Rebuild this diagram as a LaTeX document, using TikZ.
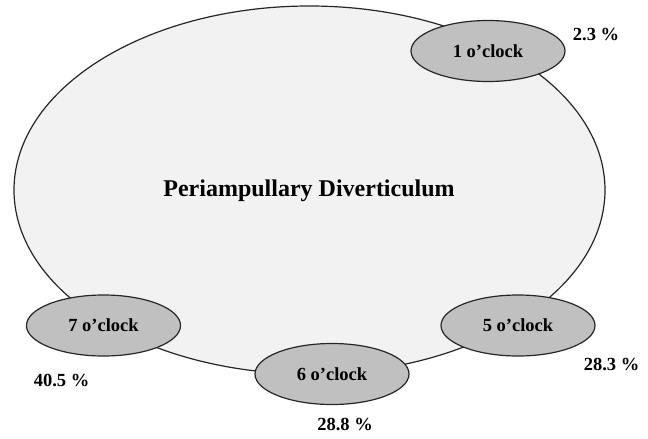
\documentclass[tikz,border=0pt]{standalone}
\usepackage{fontspec}
\setmainfont{Liberation Serif}
\usepackage{xcolor}
\usetikzlibrary{shapes.geometric}

\definecolor{diverfill}{HTML}{F2F2F2}
\definecolor{clockfill}{HTML}{C0C0C0}
\tikzset{
    outline/.style={draw=black!85, line width=1.2pt},
    clock/.style={ellipse, outline, fill=clockfill, minimum width=154pt,
        minimum height=61pt, inner sep=0pt,
        font=\bfseries\fontsize{18.5}{22}\selectfont},
    share/.style={inner sep=0pt, font=\bfseries\fontsize{18.5}{22}\selectfont}
}

\begin{document}
\begin{tikzpicture}[x=1pt, y=-1pt]
    \useasboundingbox (0, 0) rectangle (648, 439);

    \node [ellipse, outline, fill=diverfill, minimum width=591pt,
        minimum height=368pt, inner sep=0pt] (divert) at (309.5, 190) {};
    \node [font=\bfseries\fontsize{24}{28}\selectfont] (title) at (309, 191)
        {Periampullary Diverticulum};

    \node [clock] (one) at (488, 51) {1 o'clock};
    \node [clock] (seven) at (103.5, 325.5) {7 o'clock};
    \node [clock] (six) at (332, 374) {6 o'clock};
    \node [clock] (five) at (518, 325.5) {5 o'clock};

    \node [share] (pone) at (596, 34) {2.3 \%};
    \node [share] (pseven) at (61.5, 380) {40.5 \%};
    \node [share] (psix) at (345, 424) {28.8 \%};
    \node [share] (pfive) at (611.5, 364) {28.3 \%};

\end{tikzpicture}
\end{document}
